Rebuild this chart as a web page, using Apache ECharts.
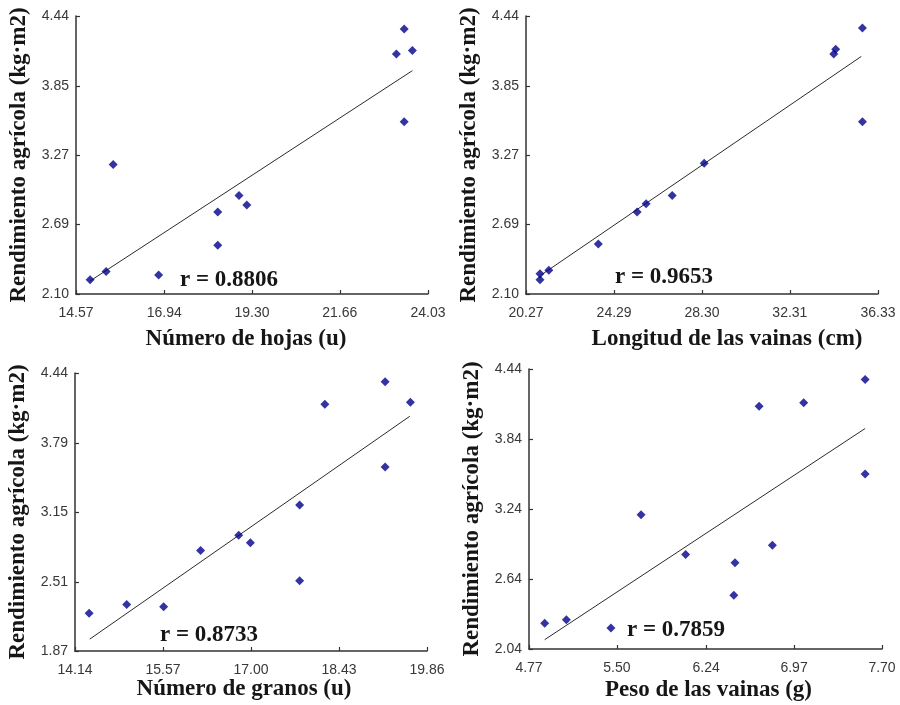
<!DOCTYPE html>
<html>
<head>
<meta charset="utf-8">
<script src="https://cdn.jsdelivr.net/npm/echarts@6/dist/echarts.min.js"></script>
<style>html,body{margin:0;padding:0;background:#fff}#c{width:900px;height:705px}</style>
</head>
<body>
<div id="c"></div>
<script>
// ---- data ----
const p1X = [14.95, 15.38, 15.57, 16.79, 18.38, 18.38, 18.95, 19.16, 23.18, 23.39, 23.61, 23.39];
const p1Y = [2.22, 2.29, 3.19, 2.26, 2.79, 2.51, 2.93, 2.85, 4.12, 4.33, 4.15, 3.55];
const p2X = [20.91, 20.91, 21.31, 23.57, 25.34, 25.75, 26.94, 28.40, 34.31, 34.40, 35.62, 35.62];
const p2Y = [2.22, 2.27, 2.30, 2.52, 2.79, 2.86, 2.93, 3.20, 4.12, 4.16, 4.34, 3.55];
const p3X = [14.37, 14.98, 15.58, 16.18, 16.80, 16.99, 17.79, 17.79, 18.20, 19.18, 19.18, 19.59];
const p3Y = [2.22, 2.30, 2.28, 2.80, 2.94, 2.87, 3.22, 2.52, 4.15, 4.36, 3.57, 4.17];
const p4X = [4.90, 5.08, 5.45, 5.70, 6.07, 6.48, 6.47, 6.68, 6.79, 7.05, 7.56, 7.56];
const p4Y = [2.26, 2.29, 2.22, 3.19, 2.85, 2.78, 2.50, 4.12, 2.93, 4.15, 4.35, 3.54];

const p1LineX = [14.95, 23.61], p1LineY = [2.21, 3.98];
const p2LineX = [20.96, 35.57], p2LineY = [2.26, 4.10];
const p3LineX = [14.38, 19.58], p3LineY = [1.98, 4.04];
const p4LineX = [4.90, 7.56],   p4LineY = [2.12, 3.93];

const p1XTicks = [14.57, 16.94, 19.30, 21.66, 24.03];
const p1YTicks = [2.10, 2.69, 3.27, 3.85, 4.44];
const p2XTicks = [20.27, 24.29, 28.30, 32.31, 36.33];
const p2YTicks = [2.10, 2.69, 3.27, 3.85, 4.44];
const p3XTicks = [14.14, 15.57, 17.00, 18.43, 19.86];
const p3YTicks = [1.87, 2.51, 3.15, 3.79, 4.44];
const p4XTicks = [4.77, 5.50, 6.24, 6.97, 7.70];
const p4YTicks = [2.04, 2.64, 3.24, 3.84, 4.44];

const xTitles = ['Número de hojas (u)', 'Longitud de las vainas (cm)', 'Número de granos (u)', 'Peso de las vainas (g)'];
const yTitle = 'Rendimiento agrícola (kg·m2)';
const rLabels = ['r = 0.8806', 'r = 0.9653', 'r = 0.8733', 'r = 0.7859'];

// ---- layout / styles ----
const panels = [
  {xs: p1X, ys: p1Y, lx: p1LineX, ly: p1LineY, xt: p1XTicks, yt: p1YTicks,
   grid: {left: 76, top: 16, width: 352, height: 278}, xPad: [0, 12, 0, 0], xGap: 34, r: [180, 280]},
  {xs: p2X, ys: p2Y, lx: p2LineX, ly: p2LineY, xt: p2XTicks, yt: p2YTicks,
   grid: {left: 526, top: 16, width: 352, height: 278}, xPad: [0, 0, 0, 50], xGap: 34, r: [615, 277]},
  {xs: p3X, ys: p3Y, lx: p3LineX, ly: p3LineY, xt: p3XTicks, yt: p3YTicks,
   grid: {left: 75, top: 373, width: 352, height: 278}, xPad: [0, 14, 0, 0], xGap: 27, r: [160, 635]},
  {xs: p4X, ys: p4Y, lx: p4LineX, ly: p4LineY, xt: p4XTicks, yt: p4YTicks,
   grid: {left: 529, top: 369, width: 353, height: 280}, xPad: [0, 0, 0, 6], xGap: 30, r: [627, 630]}
];

const axisColor = '#333';
const labelStyle = {color: '#383838', fontFamily: 'Liberation Sans', fontSize: 14};
const titleStyle = {color: '#161616', fontFamily: 'Liberation Serif', fontWeight: 'bold', fontSize: 23};

const option = {
  animation: false,
  backgroundColor: '#fff',
  grid: [], xAxis: [], yAxis: [], series: [], graphic: []
};

panels.forEach((p, i) => {
  option.grid.push(Object.assign({containLabel: false}, p.grid));
  option.xAxis.push({
    type: 'value', gridIndex: i,
    min: p.xt[0], max: p.xt[p.xt.length - 1],
    name: xTitles[i], nameLocation: 'middle', nameGap: p.xGap,
    nameTextStyle: Object.assign({padding: p.xPad}, titleStyle),
    axisLine: {show: true, onZero: false, lineStyle: {color: axisColor, width: 1.5}},
    axisTick: {show: true, inside: true, length: 4, customValues: p.xt, lineStyle: {color: axisColor, width: 1.2}},
    axisLabel: Object.assign({margin: 12, customValues: p.xt, formatter: v => v.toFixed(2)}, labelStyle),
    splitLine: {show: false}
  });
  option.yAxis.push({
    type: 'value', gridIndex: i,
    min: p.yt[0], max: p.yt[p.yt.length - 1],
    name: yTitle, nameLocation: 'middle', nameGap: 45,
    nameTextStyle: titleStyle,
    axisLine: {show: true, onZero: false, lineStyle: {color: axisColor, width: 1.5}},
    axisTick: {show: true, inside: true, length: 4, customValues: p.yt, lineStyle: {color: axisColor, width: 1.2}},
    axisLabel: Object.assign({margin: 7, customValues: p.yt, formatter: v => v.toFixed(2)}, labelStyle),
    splitLine: {show: false}
  });
  option.series.push({
    type: 'line', xAxisIndex: i, yAxisIndex: i,
    data: p.lx.map((x, k) => [x, p.ly[k]]),
    showSymbol: false, symbol: 'none',
    lineStyle: {color: '#2b2b2b', width: 1}, z: 1
  });
  option.series.push({
    type: 'scatter', xAxisIndex: i, yAxisIndex: i,
    data: p.xs.map((x, k) => [x, p.ys[k]]),
    symbol: 'diamond', symbolSize: 9,
    itemStyle: {color: '#00008b'}, z: 3
  });
  option.graphic.push({
    type: 'text', z: 10,
    style: {x: p.r[0], y: p.r[1], text: rLabels[i], verticalAlign: 'middle',
      font: 'bold 23px "Liberation Serif"', fill: '#161616'}
  });
});

const chart = echarts.init(document.getElementById('c'), null, {renderer: 'canvas'});
chart.setOption(option);
</script>
</body>
</html>
